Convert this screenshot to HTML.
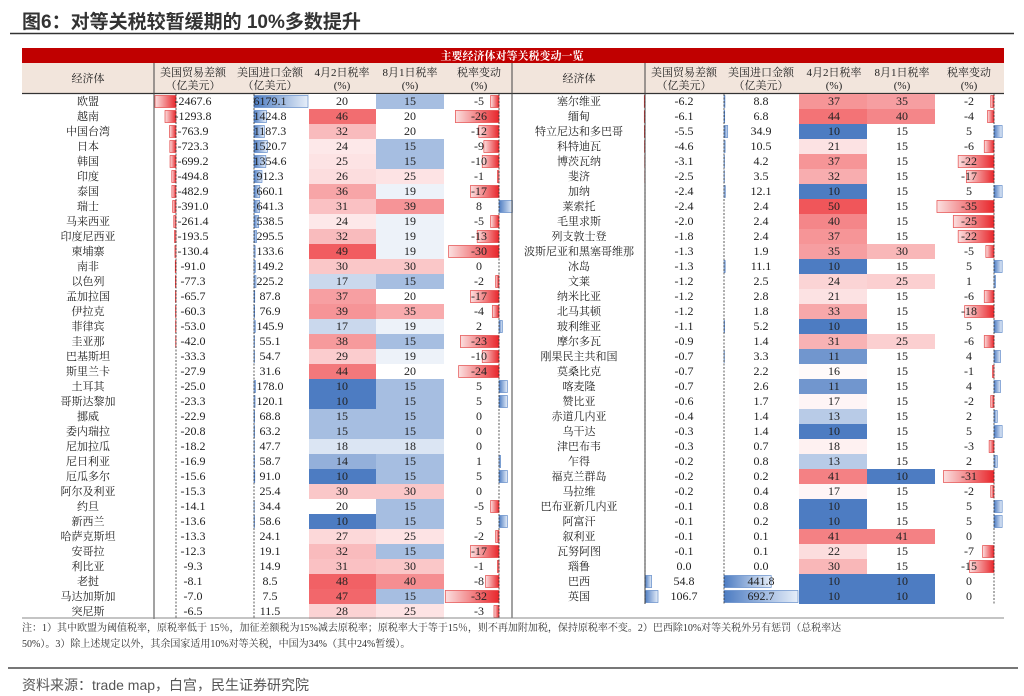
<!DOCTYPE html>
<html><head><meta charset="utf-8">
<style>
body{margin:0;background:#fff;width:1024px;height:696px;overflow:hidden}
svg{display:block}
.cn{font-family:"Liberation Serif","Noto Serif CJK SC",serif}
.num{font-family:"Liberation Serif","Noto Serif CJK SC",serif}
</style></head>
<body>
<svg id="chart" width="1024" height="696" viewBox="0 0 1024 696" xmlns="http://www.w3.org/2000/svg">
<defs>
<linearGradient id="gRed" x1="0" x2="1"><stop offset="0" stop-color="#fbe0e0"/><stop offset="1" stop-color="#e8262b"/></linearGradient>
<linearGradient id="gBlue" x1="0" x2="1"><stop offset="0" stop-color="#4d7cc2"/><stop offset="1" stop-color="#e6eef9"/></linearGradient>
</defs>
<text x="22" y="28" font-family="'Liberation Sans','Noto Sans CJK SC',sans-serif" font-size="19" font-weight="bold" fill="#333">图6：对等关税较暂缓期的 10%多数提升</text>
<line x1="10" y1="33.5" x2="1014" y2="33.5" stroke="#333" stroke-width="1.5"/>
<rect x="22" y="48" width="982" height="15" fill="#c00000"/>
<text x="512" y="59.5" text-anchor="middle" class="cn" font-size="11" font-weight="bold" fill="#fff">主要经济体对等关税变动一览</text>
<rect x="22" y="63" width="982" height="30" fill="#f2e5dc"/>
<line x1="22" y1="93.5" x2="1004" y2="93.5" stroke="#333" stroke-width="1.2"/>
<g id="body"></g>
<line x1="22" y1="618" x2="1004" y2="618" stroke="#888" stroke-width="1"/>
<text x="22" y="631" class="cn" font-size="10" fill="#333">注：1）其中欧盟为阈值税率，原税率低于 15％，加征差额税为15%减去原税率；原税率大于等于15％，则不再加附加税，保持原税率不变。2）巴西除10%对等关税外另有惩罚（总税率达</text>
<text x="22" y="647" class="cn" font-size="10" fill="#333">50%）。3）除上述规定以外，其余国家适用10%对等关税，中国为34%（其中24%暂缓）。</text>
<line x1="8" y1="668" x2="1018" y2="668" stroke="#777" stroke-width="2"/>
<text x="22" y="690" font-family="'Liberation Sans','Noto Sans CJK SC',sans-serif" font-size="14" fill="#555">资料来源：trade map，白宫，民生证券研究院</text>
</svg>
<script>
const leftNames=["欧盟","越南","中国台湾","日本","韩国","印度","泰国","瑞士","马来西亚","印度尼西亚","柬埔寨","南非","以色列","孟加拉国","伊拉克","菲律宾","圭亚那","巴基斯坦","斯里兰卡","土耳其","哥斯达黎加","挪威","委内瑞拉","尼加拉瓜","尼日利亚","厄瓜多尔","阿尔及利亚","约旦","新西兰","哈萨克斯坦","安哥拉","利比亚","老挝","马达加斯加","突尼斯"];
const leftTrade=[-2467.6,-1293.8,-763.9,-723.3,-699.2,-494.8,-482.9,-391.0,-261.4,-193.5,-130.4,-91.0,-77.3,-65.7,-60.3,-53.0,-42.0,-33.3,-27.9,-25.0,-23.3,-22.9,-20.8,-18.2,-16.9,-15.6,-15.3,-14.1,-13.6,-13.3,-12.3,-9.3,-8.1,-7.0,-6.5];
const leftImport=[6179.1,1424.8,1187.3,1520.7,1354.6,912.3,660.1,641.3,538.5,295.5,133.6,149.2,225.2,87.8,76.9,145.9,55.1,54.7,31.6,178.0,120.1,68.8,63.2,47.7,58.7,91.0,25.4,34.4,58.6,24.1,19.1,14.9,8.5,7.5,11.5];
const leftApr=[20,46,32,24,25,26,36,31,24,32,49,30,17,37,39,17,38,29,44,10,10,15,15,18,14,10,30,20,10,27,32,31,48,47,28];
const leftAug=[15,20,20,15,15,25,19,39,19,19,19,30,15,20,35,19,15,19,20,15,15,15,15,18,15,15,30,15,15,25,15,30,40,15,25];
const leftChg=[-5,-26,-12,-9,-10,-1,-17,8,-5,-13,-30,0,-2,-17,-4,2,-23,-10,-24,5,5,0,0,0,1,5,0,-5,5,-2,-17,-1,-8,-32,-3];

const rightNames=["塞尔维亚","缅甸","特立尼达和多巴哥","科特迪瓦","博茨瓦纳","斐济","加纳","莱索托","毛里求斯","列支敦士登","波斯尼亚和黑塞哥维那","冰岛","文莱","纳米比亚","北马其顿","玻利维亚","摩尔多瓦","刚果民主共和国","莫桑比克","喀麦隆","赞比亚","赤道几内亚","乌干达","津巴布韦","乍得","福克兰群岛","马拉维","巴布亚新几内亚","阿富汗","叙利亚","瓦努阿图","瑙鲁","巴西","英国"];
const rightTrade=[-6.2,-6.1,-5.5,-4.6,-3.1,-2.5,-2.4,-2.4,-2.0,-1.8,-1.3,-1.3,-1.2,-1.2,-1.2,-1.1,-0.9,-0.7,-0.7,-0.7,-0.6,-0.4,-0.3,-0.3,-0.2,-0.2,-0.2,-0.1,-0.1,-0.1,-0.1,0.0,54.8,106.7];
const rightImport=[8.8,6.8,34.9,10.5,4.2,3.5,12.1,2.4,2.4,2.4,1.9,11.1,2.5,2.8,1.8,5.2,1.4,3.3,2.2,2.6,1.7,1.4,1.4,0.7,0.8,0.2,0.4,0.8,0.2,0.1,0.1,0.0,441.8,692.7];
const rightApr=[37,44,10,21,37,32,10,50,40,37,35,10,24,21,33,10,31,11,16,11,17,13,10,18,13,41,17,10,10,41,22,30,10,10];
const rightAug=[35,40,15,15,15,15,15,15,15,15,30,15,25,15,15,15,25,15,15,15,15,15,15,15,15,10,15,15,15,41,15,15,10,10];
const rightChg=[-2,-4,5,-6,-22,-17,5,-35,-25,-22,-5,5,1,-6,-18,5,-6,4,-1,4,-2,2,5,-3,2,-31,-2,5,5,0,-7,-15,0,0];

const NS="http://www.w3.org/2000/svg";
const body=document.getElementById('body');
const ROW0=94, ROWH=15;
function mk(tag,attrs,parent){const e=document.createElementNS(NS,tag);for(const k in attrs)e.setAttribute(k,attrs[k]);(parent||body).appendChild(e);return e;}
function lerp(a,b,t){return a.map((v,i)=>Math.round(v+(b[i]-v)*t));}
function heat(v,mid){const blue=[77,124,194],white=[255,255,255],red=[240,86,90];let c;
  if(v<=mid){c=lerp(white,blue,Math.min(1,(mid-v)/(mid-10)));}else{c=lerp(white,red,Math.min(1,(v-mid)/(50-mid)));}
  return 'rgb('+c.join(',')+')';}
function fmt1(v){return v.toFixed(1);}
function bar(x0,val,scale,y,name){
  const w=Math.abs(val)*scale; if(w<0.3)return;
  const x=val<0?x0-w:x0;
  const r=mk('rect',{x:x,y:y+1.5,width:w,height:ROWH-3,fill:val<0?'url(#gRed)':'url(#gBlue)',stroke:val<0?'#e03030':'#4d7cc2','stroke-width':0.6});
  
  
}
function txt(x,y,s,cls,name){const t=mk('text',{x:x,y:y,'text-anchor':'middle',class:cls,'font-size':cls==='cn'?11:12,fill:'#222'});t.textContent=s;
  
  
  return t;}

function header(cols,side){
  const labels=[["经济体",""],["美国贸易差额","（亿美元）"],["美国进口金额","（亿美元）"],["4月2日税率","(%)"],["8月1日税率","(%)"],["税率变动","(%)"]];
  labels.forEach((l,i)=>{
    if(i===0){txt(cols[0],82,l[0],'cn',side+'-header-economy');}
    else{txt(cols[i],76,l[0],'cn',side+'-header-col-'+i);txt(cols[i],89,l[1],'cn',side+'-header-unit-'+i);}
  });
}

function drawSide(side,names,trade,imp,apr,aug,chg,g){
  // g: geometry
  header(g.centers,side);
  const tMax=Math.max(...trade.map(Math.abs)), iMax=Math.max(...imp.map(Math.abs));
  names.forEach((n,i)=>{
    const y=ROW0+i*ROWH, cy=y+11;
    const c1=mk('rect',{x:g.apr[0],y:y,width:g.apr[1]-g.apr[0],height:ROWH,fill:heat(apr[i],g.mid)});
    
    
    const c2=mk('rect',{x:g.aug[0],y:y,width:g.aug[1]-g.aug[0],height:ROWH,fill:heat(aug[i],g.mid)});
    
    
    bar(g.tZero,trade[i],g.tLen/tMax,y,side+'-trade-balance-bar');
    bar(g.iZero,imp[i],g.iLen/iMax,y,side+'-import-bar');
    bar(g.cZero,chg[i],g.cScale,y,side+'-rate-change-bar');
    txt(g.centers[0],cy,n,'cn',side+'-economy-name');
    txt(g.centers[1],cy,fmt1(trade[i]),'num',side+'-trade-balance-value');
    txt(g.centers[2],cy,fmt1(imp[i]),'num',side+'-import-value');
    txt(g.centers[3],cy,String(apr[i]),'num',side+'-apr-rate-value');
    txt(g.centers[4],cy,String(aug[i]),'num',side+'-aug-rate-value');
    txt(g.centers[5],cy,String(chg[i]),'num',side+'-rate-change-value');
  });
  const yEnd=ROW0+names.length*ROWH;
  const l=mk('line',{x1:g.div,y1:63,x2:g.div,y2:yEnd,stroke:'#444','stroke-width':1});
  
  
  [g.tZero,g.iZero,g.cZero].forEach(x=>{
    const z=mk('line',{x1:x,y1:ROW0,x2:x,y2:yEnd,stroke:'#333','stroke-width':0.8,'stroke-dasharray':'2,1.5'});
    
    
  });
}
drawSide('left',leftNames,leftTrade,leftImport,leftApr,leftAug,leftChg,
  {centers:[88,193,270,342,410,479],div:154,tZero:176,tLen:21,iZero:254,iLen:54,apr:[309,376],aug:[376,444],cZero:499,cScale:1.68,mid:20});
drawSide('right',rightNames,rightTrade,rightImport,rightApr,rightAug,rightChg,
  {centers:[579,684,761,834,902,969],div:645,tZero:645,tLen:13,iZero:724,iLen:74,apr:[799,867],aug:[867,935],cZero:994,cScale:1.63,mid:15});
const sep=mk('line',{x1:512,y1:63,x2:512,y2:618,stroke:'#444','stroke-width':1});


</script>
</body></html>
